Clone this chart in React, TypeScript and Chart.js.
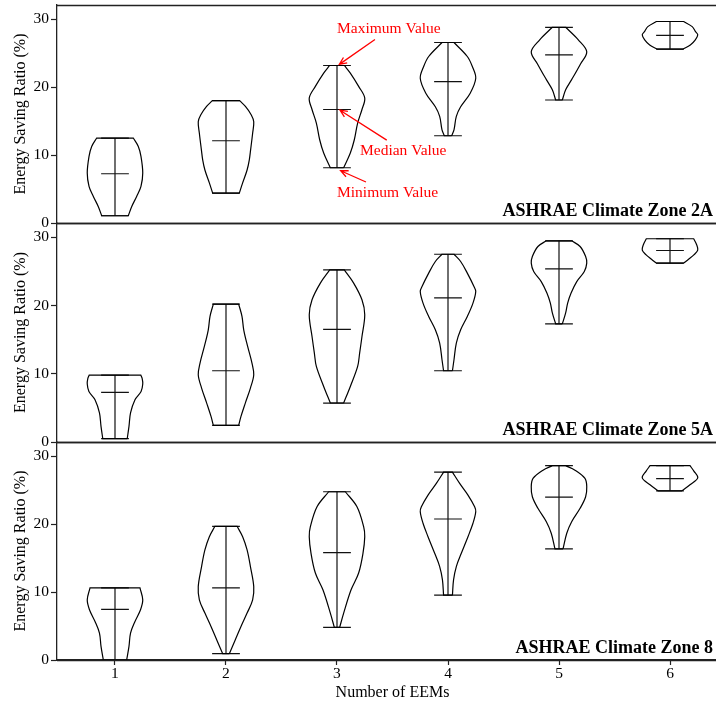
import React, { useEffect, useRef } from 'react';
import { Chart, registerables } from 'chart.js';

Chart.register(...registerables);

// ---------- data ----------
const CATEGORIES = [1, 2, 3, 4, 5, 6];
const X_TICKS = [1, 2, 3, 4, 5, 6];
const Y_TICKS = [0, 10, 20, 30];
const PANEL_TITLES = ['ASHRAE Climate Zone 2A', 'ASHRAE Climate Zone 5A', 'ASHRAE Climate Zone 8'];

const MIN_2A = [1.07, 4.4, 8.13, 12.84, 18.1, 25.6];
const MAX_2A = [12.5, 18.0, 23.18, 26.56, 28.8, 29.65];
const MED_2A = [7.25, 12.1, 16.7, 20.8, 24.75, 27.6];

const MIN_5A = [0.48, 2.43, 5.7, 10.44, 17.3, 26.2];
const MAX_5A = [9.8, 20.2, 25.2, 27.5, 29.47, 29.77];
const MED_5A = [7.26, 10.44, 16.5, 21.1, 25.37, 28.05];

const MIN_8 = [0, 0.93, 4.8, 9.54, 16.35, 24.9];
const MAX_8 = [10.6, 19.67, 24.76, 27.65, 28.6, 28.6];
const MED_8 = [7.44, 10.6, 15.8, 20.75, 23.98, 26.7];

// violin outline: [value, half width] from min to max, per category
const SHAPE_2A: number[][][] = [
  [[1.07, 0.12], [2.4, 0.15], [3.9, 0.195], [5.4, 0.234], [7.35, 0.25], [9.8, 0.234], [11.26, 0.21], [12.5, 0.165]],
  [[4.4, 0.12], [5.9, 0.15], [7.8, 0.19], [9.3, 0.21], [10.8, 0.222], [13.2, 0.24], [14.9, 0.25], [15.9, 0.228], [17.15, 0.175], [18.0, 0.123]],
  [[8.13, 0.06], [10.3, 0.12], [12.25, 0.156], [14.7, 0.186], [16.7, 0.225], [18.4, 0.25], [20.1, 0.195], [22.06, 0.12], [23.18, 0.066]],
  [[12.84, 0.033], [13.7, 0.054], [15.7, 0.075], [17.1, 0.114], [19.1, 0.2], [21.3, 0.25], [23.0, 0.22], [24.5, 0.174], [26.56, 0.054]],
  [[18.1, 0.03], [19.6, 0.06], [21.1, 0.114], [23.3, 0.19], [25.2, 0.25], [26.96, 0.174], [28.8, 0.06]],
  [[25.6, 0.117], [26.2, 0.183], [26.96, 0.228], [27.7, 0.25], [28.2, 0.228], [28.9, 0.2], [29.65, 0.123]],
];

const SHAPE_5A: number[][][] = [
  [[0.48, 0.11], [2.3, 0.126], [4.25, 0.14], [6.2, 0.18], [7.4, 0.235], [8.5, 0.25], [9.3, 0.245], [9.8, 0.232]],
  [[2.43, 0.114], [3.75, 0.135], [5.7, 0.174], [7.9, 0.22], [9.85, 0.25], [11.56, 0.234], [14.0, 0.195], [16.4, 0.16], [18.4, 0.144], [20.2, 0.114]],
  [[5.71, 0.06], [8.14, 0.12], [11.07, 0.186], [13.03, 0.204], [15.46, 0.225], [18.64, 0.25], [20.83, 0.225], [23.28, 0.15], [25.2, 0.066]],
  [[10.44, 0.04], [12.05, 0.054], [14.5, 0.075], [16.44, 0.114], [18.39, 0.174], [20.35, 0.225], [22.05, 0.25], [22.78, 0.234], [24.74, 0.174], [26.44, 0.114], [27.5, 0.054]],
  [[17.3, 0.03], [18.9, 0.06], [20.35, 0.078], [21.8, 0.108], [23.5, 0.16], [24.98, 0.228], [26.2, 0.25], [27.17, 0.24], [28.64, 0.19], [29.47, 0.114]],
  [[26.2, 0.123], [26.8, 0.17], [27.4, 0.215], [28.1, 0.25], [28.9, 0.24], [29.77, 0.213]],
];

const SHAPE_8: number[][][] = [
  [[0, 0.105], [2.0, 0.126], [3.96, 0.14], [5.67, 0.18], [7.4, 0.23], [8.85, 0.25], [10.6, 0.225]],
  [[0.93, 0.03], [2.98, 0.084], [4.93, 0.135], [6.9, 0.19], [8.85, 0.24], [10.8, 0.25], [13.75, 0.22], [16.2, 0.19], [18.15, 0.15], [19.67, 0.1]],
  [[4.8, 0.024], [6.9, 0.06], [10.3, 0.126], [12.8, 0.195], [15.7, 0.234], [18.15, 0.25], [19.62, 0.24], [22.55, 0.18], [24.76, 0.075]],
  [[9.54, 0.04], [11.8, 0.05], [13.75, 0.075], [15.7, 0.12], [18.15, 0.18], [20.12, 0.225], [21.82, 0.25], [22.55, 0.24], [24.27, 0.18], [25.99, 0.105], [27.65, 0.04]],
  [[16.35, 0.036], [18.65, 0.07], [20.35, 0.114], [22.32, 0.19], [24.02, 0.24], [25.5, 0.25], [26.72, 0.234], [27.94, 0.144], [28.6, 0.06]],
  [[24.9, 0.108], [25.8, 0.18], [26.8, 0.25], [27.8, 0.215], [28.6, 0.18]],
];

// red annotations (panel 2A), in data coordinates
const ANNOT_LABELS = ['Maximum Value', 'Median Value', 'Minimum Value'];
const ANNOT_LABEL_X = [3.0, 3.207, 3.0];
const ANNOT_LABEL_Y = [28.0, 9.96, 3.87];
const ARROW_FROM_X = [3.342, 3.448, 3.261];
const ARROW_FROM_Y = [27.0, 12.2, 6.03];
const ARROW_TO_X = [3.021, 3.027, 3.033];
const ARROW_TO_Y = [23.34, 16.6, 7.69];

// ---------- styling / layout ----------
const FONT = "'Liberation Serif', 'Times New Roman', serif";
const X_MIN = 0.4775;
const X_MAX = 6.5225;
const Y_MAX = 32.08;
const CAP_HALF = 0.125;
const LINE_W = 1.2;
const AXIS_COLOR = '#222';

const PANELS = [
  { mins: MIN_2A, maxs: MAX_2A, meds: MED_2A, shapes: SHAPE_2A },
  { mins: MIN_5A, maxs: MAX_5A, meds: MED_5A, shapes: SHAPE_5A },
  { mins: MIN_8, maxs: MAX_8, meds: MED_8, shapes: SHAPE_8 },
];

const LAYOUT = [
  { top: 0, height: 240, padTop: 5, padBottom: 17 },
  { top: 214, height: 242, padTop: 9, padBottom: 14 },
  { top: 433, height: 269, padTop: 9, padBottom: 0 },
];

function buildDatasets(mins: number[], maxs: number[], meds: number[], shapes: number[][][]) {
  const ds: any[] = [];
  CATEGORIES.forEach((c, i) => {
    const prof = shapes[i];
    const right = prof.map(([v, w]) => ({ x: c + w, y: v }));
    const left = prof.map(([v, w]) => ({ x: c - w, y: v })).reverse();
    const R0 = right[0];
    const Rn = right[right.length - 1];
    const Ln = left[0];
    const L0 = left[left.length - 1];
    const pts = [R0, ...right, Rn, Ln, ...left, L0, R0, R0];
    ds.push({
      data: pts,
      showLine: true,
      borderColor: '#000',
      borderWidth: LINE_W,
      pointRadius: 0,
      tension: 0.35,
      fill: false,
    });
  });
  const rangePts: any[] = [];
  const capPts: any[] = [];
  CATEGORIES.forEach((c, i) => {
    rangePts.push({ x: c, y: mins[i] }, { x: c, y: maxs[i] }, { x: c, y: null });
    [mins[i], maxs[i], meds[i]].forEach((v) => {
      capPts.push({ x: c - CAP_HALF, y: v }, { x: c + CAP_HALF, y: v }, { x: c, y: null });
    });
  });
  ds.push({ data: rangePts, showLine: true, spanGaps: false, borderColor: '#111', borderWidth: LINE_W, pointRadius: 0, tension: 0 });
  ds.push({ data: capPts, showLine: true, spanGaps: false, borderColor: '#111', borderWidth: LINE_W, pointRadius: 0, tension: 0 });
  return ds;
}

function makePanelPlugin(index: number) {
  return {
    id: 'panelDecor' + index,
    afterDraw(chart: any) {
      const { ctx, chartArea } = chart;
      const { left, right, top, bottom } = chartArea;
      ctx.save();
      ctx.strokeStyle = AXIS_COLOR;
      ctx.lineWidth = 1.3;
      ctx.beginPath();
      ctx.moveTo(left, Math.round(top) + 0.5);
      ctx.lineTo(right, Math.round(top) + 0.5);
      ctx.moveTo(left, Math.round(bottom) + 0.5);
      ctx.lineTo(right, Math.round(bottom) + 0.5);
      ctx.stroke();

      ctx.fillStyle = '#000';
      ctx.font = `bold 18px ${FONT}`;
      ctx.textAlign = 'right';
      ctx.textBaseline = 'alphabetic';
      ctx.fillText(PANEL_TITLES[index], right - 15, bottom - 7.5);

      if (index === 0) {
        const xs = chart.scales.x;
        const ys = chart.scales.y;
        ctx.fillStyle = '#ff0000';
        ctx.strokeStyle = '#ff0000';
        ctx.lineWidth = 1.3;
        ctx.font = `15.5px ${FONT}`;
        ctx.textAlign = 'left';
        ANNOT_LABELS.forEach((label, k) => {
          ctx.fillText(label, xs.getPixelForValue(ANNOT_LABEL_X[k]), ys.getPixelForValue(ANNOT_LABEL_Y[k]));
          const fx = xs.getPixelForValue(ARROW_FROM_X[k]);
          const fy = ys.getPixelForValue(ARROW_FROM_Y[k]);
          const tx = xs.getPixelForValue(ARROW_TO_X[k]);
          const ty = ys.getPixelForValue(ARROW_TO_Y[k]);
          const ang = Math.atan2(ty - fy, tx - fx);
          const hl = 8;
          const ha = 0.42;
          ctx.beginPath();
          ctx.moveTo(fx, fy);
          ctx.lineTo(tx, ty);
          ctx.moveTo(tx - hl * Math.cos(ang - ha), ty - hl * Math.sin(ang - ha));
          ctx.lineTo(tx, ty);
          ctx.lineTo(tx - hl * Math.cos(ang + ha), ty - hl * Math.sin(ang + ha));
          ctx.stroke();
        });
      }
      ctx.restore();
    },
  };
}

function makeConfig(index: number): any {
  const p = PANELS[index];
  const L = LAYOUT[index];
  const isBottom = index === PANELS.length - 1;
  return {
    type: 'scatter',
    data: { datasets: buildDatasets(p.mins, p.maxs, p.meds, p.shapes) },
    plugins: [makePanelPlugin(index)],
    options: {
      animation: false,
      responsive: false,
      maintainAspectRatio: false,
      events: [],
      layout: { padding: { top: L.padTop, bottom: L.padBottom, left: 0, right: 0 } },
      plugins: { legend: { display: false }, tooltip: { enabled: false }, title: { display: false } },
      scales: {
        x: {
          type: 'linear',
          min: X_MIN,
          max: X_MAX,
          display: isBottom,
          afterBuildTicks: (axis: any) => {
            axis.ticks = X_TICKS.map((v) => ({ value: v }));
          },
          afterFit: (s: any) => {
            s.height = isBottom ? 42 : 0;
            s.paddingLeft = 0;
            s.paddingRight = 0;
          },
          grid: { display: true, drawOnChartArea: false, drawTicks: true, tickLength: 5, tickWidth: 1.2, tickColor: AXIS_COLOR },
          border: { display: true, color: AXIS_COLOR, width: 1.3 },
          ticks: { color: '#000', font: { family: FONT, size: 15.5 }, padding: 0, maxRotation: 0, autoSkip: false, callback: (v: any) => String(v) },
          title: { display: true, text: 'Number of EEMs', color: '#000', font: { family: FONT, size: 16 }, padding: { top: 0, bottom: 0 } },
        },
        y: {
          type: 'linear',
          min: 0,
          max: Y_MAX,
          afterBuildTicks: (axis: any) => {
            axis.ticks = Y_TICKS.map((v) => ({ value: v }));
          },
          afterFit: (s: any) => {
            s.width = 57;
            s.paddingTop = 0;
            s.paddingBottom = 0;
          },
          grid: { display: true, drawOnChartArea: false, drawTicks: true, tickLength: 6, tickWidth: 1.2, tickColor: AXIS_COLOR },
          border: { display: true, color: AXIS_COLOR, width: 1.3 },
          ticks: { color: '#000', font: { family: FONT, size: 15.5 }, padding: 2, callback: (v: any) => String(v) },
          title: { display: true, text: 'Energy Saving Ratio (%)', color: '#000', font: { family: FONT, size: 16 }, padding: { top: 11, bottom: 0 } },
        },
      },
    },
  };
}

export default function App() {
  const r0 = useRef<HTMLCanvasElement>(null);
  const r1 = useRef<HTMLCanvasElement>(null);
  const r2 = useRef<HTMLCanvasElement>(null);
  const refs = [r0, r1, r2];

  useEffect(() => {
    Chart.defaults.font.family = FONT;
    Chart.defaults.color = '#000';
    const charts = refs.map((r, i) => new Chart(r.current as HTMLCanvasElement, makeConfig(i)));
    return () => charts.forEach((c) => c.destroy());
  }, []);

  return (
    <div style={{ position: 'absolute', left: 0, top: 0, width: 716, height: 702, overflow: 'hidden', background: '#fff' }}>
      {LAYOUT.map((L, i) => (
        <canvas
          key={i}
          ref={refs[i]}
          width={728}
          height={L.height}
          style={{ position: 'absolute', left: 0, top: L.top, width: 728, height: L.height }}
        />
      ))}
    </div>
  );
}
